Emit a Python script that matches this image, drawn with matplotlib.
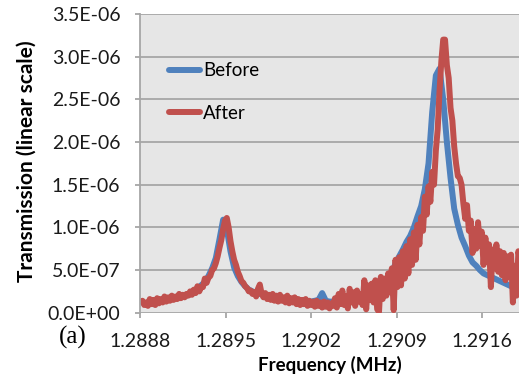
import numpy as np
import matplotlib
matplotlib.use("Agg")
import matplotlib.pyplot as plt
from matplotlib.ticker import FuncFormatter

# Frequency sweeps (MHz): both start at the same point; the second
# measurement was taken with twice the point density.
f_start = 1.28882
step_before = 0.00003
step_after = 0.000015
freq_before = f_start + step_before * np.arange(103)
freq_after = f_start + step_after * np.arange(207)

# Transmission, units of 1e-7
before = [
    1.2, 1.0, 1.1, 1.0, 1.2, 1.3, 1.4, 1.6, 1.7, 1.8,
    1.9, 2.0, 2.1, 2.3, 2.5, 2.8, 3.2, 3.6, 4.3, 5.2,
    6.4, 8.6, 10.9, 9.8, 7.2, 5.3, 4.3, 3.6, 3.1, 2.7,
    2.5, 2.3, 2.2, 2.1, 2.0, 1.9, 1.8, 1.8, 1.7, 1.7,
    1.6, 1.5, 1.5, 1.4, 1.4, 1.3, 1.3, 1.4, 1.5, 2.3,
    1.4, 1.3, 1.3, 1.4, 1.5, 1.6, 1.7, 1.8, 1.9, 2.0,
    2.2, 2.3, 2.5, 2.7, 2.9, 3.2, 3.5, 3.9, 4.6, 5.8,
    6.6, 7.4, 8.3, 9.0, 10.0, 11.3, 12.5, 14.5, 17.5, 23.5,
    27.8, 28.6, 25.0, 20.0, 15.8, 12.2, 10.3, 8.8, 7.8, 6.7,
    5.9, 5.5, 5.0, 4.6, 4.4, 4.2, 4.0, 3.8, 3.6, 3.4,
    3.2, 3.0, 2.9,
]
after = [
    1.4, 0.9, 1.2, 0.8, 1.6, 1.0, 1.5, 0.9, 1.7, 1.1,
    1.6, 1.2, 1.9, 1.3, 1.8, 1.4, 2.0, 1.5, 1.9, 1.6,
    2.2, 1.7, 2.1, 1.8, 2.2, 2.0, 2.5, 2.1, 2.7, 2.3,
    3.1, 2.5, 3.0, 3.0, 4.0, 3.5, 4.1, 4.3, 5.0, 5.2,
    5.8, 6.6, 7.6, 8.5, 9.8, 10.8, 11.1, 10.0, 8.4, 7.2,
    6.2, 5.6, 4.8, 4.3, 3.7, 3.5, 3.1, 2.9, 2.5, 2.6,
    2.2, 2.4, 1.9, 2.8, 3.3, 2.2, 1.8, 2.3, 1.6, 2.1,
    1.5, 2.2, 1.4, 2.0, 1.3, 2.1, 1.4, 1.8, 1.2, 2.0,
    1.1, 1.7, 1.2, 1.8, 1.0, 1.6, 0.9, 1.5, 1.0, 1.6,
    0.8, 1.4, 0.9, 1.3, 0.7, 1.4, 0.8, 1.2, 0.6, 1.3,
    0.7, 1.2, 0.5, 1.1, 0.8, 1.7, 0.6, 2.2, 1.0, 2.6,
    0.9, 1.9, 0.5, 2.8, 1.2, 2.4, 0.8, 2.6, 1.3, 2.2,
    0.9, 3.8, 0.4, 3.2, 1.5, 3.4, 1.2, 3.8, 0.4, 0.1,
    4.2, 1.6, 4.0, 2.0, 4.6, 2.4, 5.2, 0.3, 6.2, 3.0,
    6.5, 3.2, 7.2, 4.0, 7.8, 4.6, 8.6, 5.6, 9.4, 6.2,
    10.3, 8.0, 11.2, 9.6, 13.6, 11.5, 14.8, 13.0, 16.5, 15.0,
    19.0, 21.5, 26.0, 29.5, 32.0, 32.0, 29.0, 27.5, 24.0, 22.5,
    19.5, 17.5, 16.0, 15.8, 15.0, 12.8, 11.0, 12.6, 9.6, 10.8,
    7.0, 9.8, 7.5, 10.6, 7.8, 9.5, 5.6, 8.8, 6.2, 8.0,
    3.0, 7.4, 5.2, 8.0, 4.8, 7.2, 4.4, 7.0, 3.8, 6.6,
    4.5, 6.8, 1.2, 5.5, 2.0, 7.2, 6.0,
]

x_ticks = [1.2888, 1.2895, 1.2902, 1.2909, 1.2916]
y_ticks = [0.0, 0.5e-6, 1.0e-6, 1.5e-6, 2.0e-6, 2.5e-6, 3.0e-6, 3.5e-6]

blue = "#4f81bd"
red = "#c0504d"
grid_gray = "#a6a6a6"
ui_font = ["Lato", "DejaVu Sans"]

W, H = 519, 386
fig = plt.figure(figsize=(W / 100, H / 100), dpi=100)
ax = fig.add_axes([140 / W, 1 - 312.7 / H, 1 - 140 / W, (312.7 - 14) / H])
ax.set_facecolor("#e6e6e6")

ax.plot(freq_before, np.array(before) * 1e-7, color=blue, lw=4.3,
        label="Before", solid_joinstyle="round", solid_capstyle="round")
ax.plot(freq_after, np.array(after) * 1e-7, color=red, lw=4.3,
        label="After", solid_joinstyle="round", solid_capstyle="round")

ax.set_xlim(1.2888, 1.29190)
ax.set_ylim(0, 3.5e-6)
ax.set_xticks(x_ticks)
ax.set_yticks(y_ticks)
ax.xaxis.set_major_formatter(FuncFormatter(lambda v, p: f"{v:.4f}"))


def sci(v, p):
    if v == 0:
        return "0.0E+00"
    exp = int(np.floor(np.log10(abs(v)) + 1e-9))
    mant = v / 10 ** exp
    return f"{mant:.1f}E{exp:+03d}"


ax.yaxis.set_major_formatter(FuncFormatter(sci))

ax.grid(axis="y", color=grid_gray, lw=1.3)
ax.set_axisbelow(True)
for side in ("top", "right", "bottom"):
    ax.spines[side].set_visible(False)
ax.spines["left"].set_color(grid_gray)
ax.spines["left"].set_linewidth(1.3)

ax.tick_params(axis="both", colors=grid_gray, labelcolor="#1a1a1a",
               length=3.6, width=1.3, labelsize=14)
ax.tick_params(axis="y", pad=10.5)
ax.tick_params(axis="x", pad=11)
for lab in ax.get_xticklabels() + ax.get_yticklabels():
    lab.set_fontfamily(ui_font)

fig.text(27 / W, 1 - 161.5 / H, "Transmission (linear scale)", rotation=90,
         fontsize=15, fontweight="bold", family=ui_font,
         ha="center", va="center")
fig.text(329.5 / W, 1 - 365 / H, "Frequency (MHz)", fontsize=13.5,
         fontweight="bold", family=ui_font, ha="center", va="center")

ax.legend(loc="center left", bbox_to_anchor=(0.057, 0.739), borderaxespad=0,
          frameon=False, handlelength=1.65, handletextpad=0.15,
          labelspacing=1.35, prop={"family": ui_font, "size": 13.5})

fig.text(73 / W, 1 - 337 / H, "(a)", family="Liberation Serif", fontsize=18,
         ha="center", va="center")

fig.savefig("out.png", dpi=100)
